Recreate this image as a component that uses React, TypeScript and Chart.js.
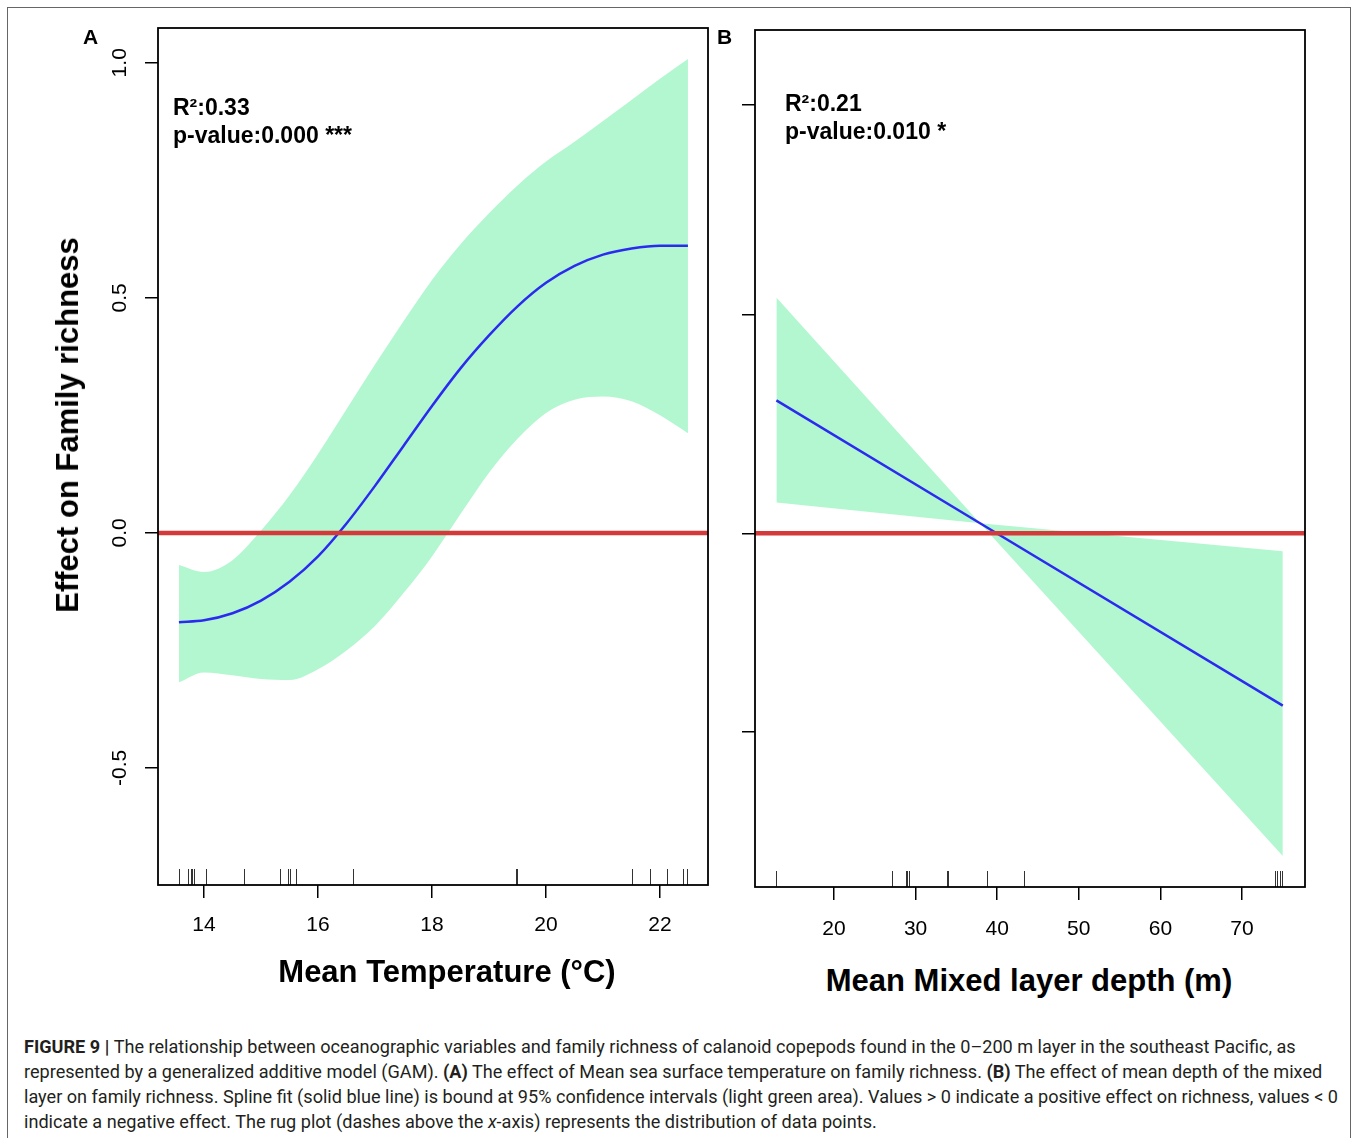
import React, { useEffect, useRef } from "react";
import { Chart, registerables } from "chart.js";

Chart.register(...registerables);

// ---------- Panel A: Mean Temperature ----------
const tempX = [13.56, 14, 14.5, 15, 15.5, 16, 16.5, 17, 17.5, 18, 18.5, 19, 19.5, 20, 20.5, 21, 21.5, 22, 22.49];
const tempFit = [-0.19, -0.186, -0.171, -0.144, -0.104, -0.05, 0.02, 0.1, 0.185, 0.27, 0.35, 0.42, 0.482, 0.532, 0.568, 0.592, 0.605, 0.611, 0.611];
const tempUpper = [-0.068, -0.083, -0.058, 0.005, 0.08, 0.168, 0.263, 0.358, 0.45, 0.538, 0.614, 0.68, 0.739, 0.79, 0.832, 0.876, 0.921, 0.966, 1.008];
const tempLower = [-0.318, -0.297, -0.303, -0.311, -0.313, -0.29, -0.25, -0.198, -0.128, -0.05, 0.04, 0.128, 0.2, 0.255, 0.283, 0.29, 0.28, 0.25, 0.212];
const tempRug = [13.56, 13.72, 13.77, 13.79, 13.82, 14.03, 14.7, 15.34, 15.47, 15.51, 15.62, 16.61, 19.47, 19.49, 21.51, 21.82, 22.13, 22.4, 22.47];
const tempTicks = [14, 16, 18, 20, 22];
const effectTicksA = [-0.5, 0, 0.5, 1.0];
const tempXRange = [13.193, 22.842];
const effectRangeA = [-0.749, 1.074];

// ---------- Panel B: Mean Mixed layer depth ----------
const mldX = [12.94, 37.9, 75.0];
const mldFit = [0.159, 0.012, -0.206];
const mldUpper = [0.282, 0.012, -0.0215];
const mldLower = [0.037, 0.012, -0.386];
const mldRug = [12.94, 27.15, 28.82, 29.0, 29.23, 33.89, 33.98, 38.73, 43.3, 74.03, 74.3, 74.6, 74.93];
const mldTicks = [20, 30, 40, 50, 60, 70];
const effectTicksB = [-0.237, 0, 0.262, 0.512];
const mldXRange = [10.32, 77.72];
const effectRangeB = [-0.423, 0.602];

const FONT = "'Liberation Sans', Arial, Helvetica, sans-serif";
const GREEN = "rgb(179,247,209)";
const BLUE = "#2b2bf0";
const RED = "#d43a3a";

function boxRugPlugin(rug: number[]) {
  return {
    id: "boxRug",
    afterDraw(chart: any) {
      const { ctx, chartArea, scales } = chart;
      ctx.save();
      ctx.strokeStyle = "#333";
      ctx.lineWidth = 1;
      rug.forEach((v) => {
        const px = Math.round(scales.x.getPixelForValue(v)) + 0.5;
        ctx.beginPath();
        ctx.moveTo(px, chartArea.bottom);
        ctx.lineTo(px, chartArea.bottom - 16);
        ctx.stroke();
      });
      ctx.strokeStyle = "#000";
      ctx.lineWidth = 1.8;
      ctx.strokeRect(chartArea.left, chartArea.top, chartArea.right - chartArea.left, chartArea.bottom - chartArea.top);
      ctx.restore();
    },
  };
}

type PanelProps = {
  xs: number[];
  fit: number[];
  upper: number[];
  lower: number[];
  rug: number[];
  xTicks: number[];
  yTicks: number[];
  xRange: number[];
  yRange: number[];
  showYLabels: boolean;
  yAxisWidth: number;
  padding: { top: number; right: number; bottom: number; left: number };
  xTickPadding: number;
  smooth: boolean;
  width: number;
  height: number;
  left: number;
  top: number;
};

function Panel(p: PanelProps) {
  const ref = useRef<HTMLCanvasElement | null>(null);
  useEffect(() => {
    if (!ref.current) return;
    const pts = (ys: number[]) => p.xs.map((x, i) => ({ x, y: ys[i] }));
    const interp = p.smooth ? "monotone" : "default";
    const chart = new Chart(ref.current, {
      type: "line",
      data: {
        datasets: [
          {
            label: "zero",
            data: [
              { x: p.xRange[0], y: 0 },
              { x: p.xRange[1], y: 0 },
            ],
            borderColor: RED,
            borderWidth: 4.5,
            pointRadius: 0,
            fill: false,
            order: 0,
          },
          {
            label: "fit",
            data: pts(p.fit),
            borderColor: BLUE,
            borderWidth: 2.5,
            pointRadius: 0,
            fill: false,
            cubicInterpolationMode: interp,
            tension: 0,
            order: 1,
          },
          {
            label: "upper",
            data: pts(p.upper),
            borderWidth: 0,
            borderColor: "rgba(0,0,0,0)",
            backgroundColor: GREEN,
            pointRadius: 0,
            fill: "+1",
            cubicInterpolationMode: interp,
            tension: 0,
            order: 2,
          },
          {
            label: "lower",
            data: pts(p.lower),
            borderWidth: 0,
            borderColor: "rgba(0,0,0,0)",
            backgroundColor: GREEN,
            pointRadius: 0,
            fill: false,
            cubicInterpolationMode: interp,
            tension: 0,
            order: 3,
          },
        ],
      },
      options: {
        animation: false,
        responsive: false,
        maintainAspectRatio: false,
        layout: { padding: p.padding },
        plugins: { legend: { display: false }, tooltip: { enabled: false } },
        scales: {
          x: {
            type: "linear",
            min: p.xRange[0],
            max: p.xRange[1],
            afterBuildTicks: (s: any) => {
              s.ticks = p.xTicks.map((v) => ({ value: v }));
            },
            afterFit: (s: any) => {
              s.height = 50;
            },
            ticks: {
              font: { family: FONT, size: 21 },
              color: "#000",
              padding: p.xTickPadding,
              autoSkip: false,
              maxRotation: 0,
              minRotation: 0,
              callback: (v: any) => String(v),
            },
            grid: { drawOnChartArea: false, tickLength: 13, color: "#000", lineWidth: 1.5 },
            border: { display: false },
          },
          y: {
            type: "linear",
            min: p.yRange[0],
            max: p.yRange[1],
            afterBuildTicks: (s: any) => {
              s.ticks = p.yTicks.map((v) => ({ value: v }));
            },
            afterFit: (s: any) => {
              s.width = p.yAxisWidth;
            },
            ticks: {
              display: p.showYLabels,
              font: { family: FONT, size: 21 },
              color: "#000",
              padding: 7,
              autoSkip: false,
              minRotation: 90,
              maxRotation: 90,
              crossAlign: "center",
              callback: (v: any) => Number(v).toFixed(1),
            },
            grid: { drawOnChartArea: false, tickLength: 13, color: "#000", lineWidth: 1.5 },
            border: { display: false },
          },
        },
      } as any,
      plugins: [boxRugPlugin(p.rug)],
    });
    return () => chart.destroy();
  }, []);
  return (
    <canvas
      ref={ref}
      width={p.width}
      height={p.height}
      style={{ position: "absolute", left: p.left, top: p.top, width: p.width, height: p.height }}
    />
  );
}

const captionLines = [
  [
    { t: "FIGURE 9 | ", b: true },
    { t: "The relationship between oceanographic variables and family richness of calanoid copepods found in the 0–200 m layer in the southeast Pacific, as" },
  ],
  [
    { t: "represented by a generalized additive model (GAM). " },
    { t: "(A)", b: true },
    { t: " The effect of Mean sea surface temperature on family richness. " },
    { t: "(B)", b: true },
    { t: " The effect of mean depth of the mixed" },
  ],
  [
    { t: "layer on family richness. Spline fit (solid blue line) is bound at 95% confidence intervals (light green area). Values > 0 indicate a positive effect on richness, values < 0" },
  ],
  [
    { t: "indicate a negative effect. The rug plot (dashes above the " },
    { t: "x", i: true },
    { t: "-axis) represents the distribution of data points." },
  ],
] as { t: string; b?: boolean; i?: boolean }[][];

const abs = (extra: React.CSSProperties): React.CSSProperties => ({ position: "absolute", whiteSpace: "nowrap", ...extra });

export default function App() {
  return (
    <div style={{ position: "absolute", left: 0, top: 0, width: 1358, height: 1138, background: "#fff", overflow: "hidden", fontFamily: FONT }}>
      <div style={abs({ left: 7, top: 7, width: 1342, height: 1150, borderTop: "1.5px solid #666", borderLeft: "1.5px solid #666", borderRight: "1.5px solid #666" })} />
      <Panel
        xs={tempX}
        fit={tempFit}
        upper={tempUpper}
        lower={tempLower}
        rug={tempRug}
        xTicks={tempTicks}
        yTicks={effectTicksA}
        xRange={tempXRange}
        yRange={effectRangeA}
        showYLabels={true}
        yAxisWidth={98}
        padding={{ top: 28, right: 32, bottom: 25, left: 0 }}
        xTickPadding={15}
        smooth={true}
        width={680}
        height={960}
        left={60}
        top={0}
      />
      <Panel
        xs={mldX}
        fit={mldFit}
        upper={mldUpper}
        lower={mldLower}
        rug={mldRug}
        xTicks={mldTicks}
        yTicks={effectTicksB}
        xRange={mldXRange}
        yRange={effectRangeB}
        showYLabels={false}
        yAxisWidth={55}
        padding={{ top: 30, right: 45, bottom: 23, left: 0 }}
        xTickPadding={17}
        smooth={false}
        width={650}
        height={960}
        left={700}
        top={0}
      />
      <div style={abs({ left: 83, top: 25, fontSize: 21, fontWeight: 700 })}>A</div>
      <div style={abs({ left: 717, top: 25, fontSize: 21, fontWeight: 700 })}>B</div>
      <div style={abs({ left: 173, top: 93, fontSize: 23, fontWeight: 700, lineHeight: "28px" })}>
        R²:0.33
        <br />
        p-value:0.000 ***
      </div>
      <div style={abs({ left: 785, top: 89, fontSize: 23, fontWeight: 700, lineHeight: "28px" })}>
        R²:0.21
        <br />
        p-value:0.010 *
      </div>
      <div style={abs({ left: 447, top: 972, transform: "translate(-50%,-50%)", fontSize: 31, fontWeight: 700 })}>Mean Temperature (°C)</div>
      <div style={abs({ left: 1029, top: 981, transform: "translate(-50%,-50%)", fontSize: 31, fontWeight: 700 })}>Mean Mixed layer depth (m)</div>
      <div style={abs({ left: 68, top: 425, transform: "translate(-50%,-50%) rotate(-90deg)", fontSize: 31, fontWeight: 700 })}>Effect on Family richness</div>
      {captionLines.map((line, li) => (
        <div key={li} style={abs({ left: 24, top: 1035 + li * 25, fontFamily: "Roboto, 'Liberation Sans', sans-serif", fontSize: 18.1, color: "#231f20", lineHeight: "23px" })}>
          {line.map((s, si) => (
            <span key={si} style={{ fontWeight: s.b ? 700 : 400, fontStyle: s.i ? "italic" : "normal" }}>
              {s.t}
            </span>
          ))}
        </div>
      ))}
    </div>
  );
}
